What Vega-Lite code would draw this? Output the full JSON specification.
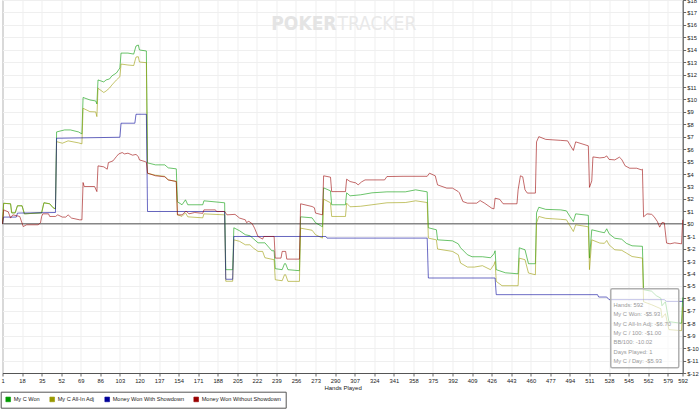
{
  "$schema": "https://vega.github.io/schema/vega-lite/v6.json",
  "width": 680.2,
  "height": 373,
  "autosize": "none",
  "padding": {"left": 2.5, "top": 0, "right": 17.3, "bottom": 36},
  "background": "white",
  "config": {
    "view": {"stroke": "#888888", "strokeWidth": 1},
    "font": "Liberation Sans"
  },
  "datasets": {
    "won": [
      {"h":1,"v":0},{"h":2,"v":1.65},{"h":8,"v":1.61},{"h":9,"v":0.88},{"h":12,"v":0.88},{"h":14,"v":1.45},{"h":18,"v":1.45},{"h":20,"v":0.8},{"h":35,"v":0.88},{"h":37,"v":1.69},{"h":42,"v":1.61},{"h":45,"v":1.29},{"h":47,"v":1.2},
      {"h":48,"v":7.39},{"h":55,"v":7.55},{"h":60,"v":7.55},{"h":67,"v":7.39},{"h":70,"v":7.23},{"h":71,"v":10.16},{"h":77,"v":9.96},{"h":82,"v":9.88},{"h":83,"v":9.64},{"h":84,"v":11.57},{"h":89,"v":11.41},{"h":91,"v":11.57},{"h":94,"v":11.65},{"h":96,"v":11.89},{"h":100,"v":12.13},{"h":103,"v":12.53},{"h":104,"v":13.73},{"h":110,"v":13.73},{"h":115,"v":13.65},{"h":117,"v":14.3},{"h":119,"v":14.38},{"h":120,"v":13.98},{"h":126,"v":13.9},
      {"h":127,"v":4.9},{"h":134,"v":4.74},{"h":142,"v":4.74},{"h":145,"v":4.5},{"h":152,"v":4.42},{"h":153,"v":1.77},{"h":157,"v":1.53},{"h":160,"v":1.93},{"h":162,"v":1.53},{"h":175,"v":1.53},{"h":176,"v":1.85},{"h":194,"v":1.69},{"h":195,"v":-3.69},{"h":201,"v":-3.69},{"h":202,"v":-0.32},{"h":207,"v":-0.56},{"h":212,"v":-0.88},{"h":216,"v":-0.96},{"h":219,"v":-1.2},{"h":223,"v":-1.53},{"h":229,"v":-1.53},{"h":235,"v":-2.17},{"h":237,"v":-2.17},{"h":238,"v":-3.61},{"h":244,"v":-3.69},{"h":246,"v":-3.21},{"h":247,"v":-3.21},{"h":249,"v":-3.69},{"h":259,"v":-3.77},
      {"h":260,"v":0.56},{"h":270,"v":0.48},{"h":273,"v":0.08},{"h":279,"v":-0.24},{"h":280,"v":2.89},{"h":286,"v":2.65},{"h":287,"v":1.53},{"h":299,"v":1.53},{"h":300,"v":2.49},{"h":303,"v":2.25},{"h":312,"v":2.33},{"h":322,"v":2.49},{"h":335,"v":2.57},{"h":351,"v":2.57},{"h":360,"v":2.73},{"h":370,"v":2.57},{"h":371,"v":-0.32},{"h":378,"v":-0.48},{"h":379,"v":-1.29},{"h":392,"v":-1.37},{"h":397,"v":-1.61},{"h":399,"v":-1.93},{"h":405,"v":-2.49},{"h":409,"v":-2.65},{"h":418,"v":-2.65},{"h":425,"v":-2.73},{"h":428,"v":-2.41},{"h":429,"v":-2.17},{"h":430,"v":-3.69},{"h":438,"v":-3.94},{"h":449,"v":-4.02},
      {"h":450,"v":-1.93},{"h":455,"v":-2.09},{"h":458,"v":-3.21},{"h":464,"v":-3.21},{"h":465,"v":0.88},{"h":467,"v":1.33},{"h":473,"v":1.16},{"h":486,"v":1.12},{"h":491,"v":1.04},{"h":494,"v":0.59},{"h":497,"v":0.18},{"h":499,"v":0.8},{"h":510,"v":0.68},{"h":511,"v":-2.76},{"h":513,"v":-0.48},{"h":520,"v":-0.64},{"h":524,"v":-0.72},{"h":526,"v":-0.4},{"h":528,"v":-0.8},{"h":533,"v":-1.16},{"h":539,"v":-1.24},{"h":543,"v":-1.57},{"h":548,"v":-1.77},{"h":557,"v":-1.81},{"h":558,"v":-5.3},{"h":565,"v":-5.42},{"h":569,"v":-5.78},{"h":573,"v":-5.98},{"h":574,"v":-6.59},{"h":577,"v":-6.27},{"h":580,"v":-7.87},{"h":590,"v":-7.99},{"h":591,"v":-7.99},{"h":592,"v":-5.93}
    ],
    "adj": [
      {"h":1,"v":0},{"h":2,"v":1.65},{"h":8,"v":1.61},{"h":9,"v":0.88},{"h":12,"v":0.88},{"h":14,"v":1.45},{"h":18,"v":1.45},{"h":20,"v":0.8},{"h":35,"v":0.88},{"h":37,"v":1.69},{"h":42,"v":1.61},{"h":45,"v":1.29},{"h":47,"v":1.2},
      {"h":48,"v":6.61},{"h":53,"v":6.48},{"h":58,"v":6.67},{"h":67,"v":6.51},{"h":70,"v":6.43},{"h":71,"v":9.29},{"h":77,"v":9.02},{"h":82,"v":9.0},{"h":83,"v":8.62},{"h":84,"v":10.9},{"h":89,"v":10.56},{"h":91,"v":10.68},{"h":94,"v":10.92},{"h":96,"v":11.16},{"h":100,"v":11.57},{"h":103,"v":11.83},{"h":104,"v":12.85},{"h":110,"v":12.77},{"h":115,"v":12.73},{"h":117,"v":13.41},{"h":119,"v":13.44},{"h":120,"v":13.01},{"h":126,"v":12.96},
      {"h":127,"v":4.07},{"h":134,"v":3.9},{"h":142,"v":3.82},{"h":145,"v":3.53},{"h":152,"v":3.41},{"h":153,"v":0.72},{"h":157,"v":0.6},{"h":160,"v":0.88},{"h":162,"v":0.56},{"h":175,"v":0.48},{"h":176,"v":0.8},{"h":194,"v":0.72},{"h":195,"v":-4.62},{"h":201,"v":-4.62},{"h":202,"v":-1.29},{"h":207,"v":-1.41},{"h":212,"v":-1.69},{"h":216,"v":-1.69},{"h":219,"v":-1.95},{"h":223,"v":-2.22},{"h":227,"v":-2.22},{"h":229,"v":-2.73},{"h":237,"v":-2.89},{"h":238,"v":-4.5},{"h":244,"v":-4.58},{"h":246,"v":-4.1},{"h":247,"v":-4.1},{"h":249,"v":-4.63},{"h":259,"v":-4.63},
      {"h":260,"v":-0.35},{"h":270,"v":-0.52},{"h":273,"v":-0.88},{"h":279,"v":-1.15},{"h":280,"v":1.98},{"h":286,"v":1.69},{"h":287,"v":0.59},{"h":299,"v":0.59},{"h":300,"v":1.66},{"h":303,"v":1.37},{"h":312,"v":1.41},{"h":322,"v":1.53},{"h":335,"v":1.69},{"h":351,"v":1.71},{"h":360,"v":1.85},{"h":370,"v":1.71},{"h":371,"v":-1.15},{"h":378,"v":-1.29},{"h":379,"v":-2.03},{"h":392,"v":-2.22},{"h":397,"v":-2.49},{"h":399,"v":-3.16},{"h":405,"v":-3.48},{"h":411,"v":-3.48},{"h":418,"v":-3.37},{"h":425,"v":-3.69},{"h":428,"v":-3.29},{"h":429,"v":-3.03},{"h":430,"v":-4.63},{"h":435,"v":-4.98},{"h":449,"v":-4.98},
      {"h":450,"v":-2.76},{"h":455,"v":-2.89},{"h":458,"v":-3.96},{"h":464,"v":-4.1},{"h":465,"v":0.06},{"h":467,"v":0.59},{"h":473,"v":0.44},{"h":486,"v":0.36},{"h":491,"v":0.32},{"h":494,"v":-0.16},{"h":497,"v":-0.62},{"h":499,"v":-0.08},{"h":510,"v":-0.24},{"h":511,"v":-3.69},{"h":513,"v":-1.29},{"h":520,"v":-1.55},{"h":524,"v":-1.57},{"h":526,"v":-1.34},{"h":528,"v":-1.69},{"h":533,"v":-2.09},{"h":539,"v":-2.13},{"h":543,"v":-2.35},{"h":548,"v":-2.63},{"h":557,"v":-2.76},{"h":558,"v":-6.27},{"h":565,"v":-6.51},{"h":569,"v":-6.67},{"h":573,"v":-6.83},{"h":574,"v":-7.55},{"h":577,"v":-7.23},{"h":580,"v":-8.51},{"h":590,"v":-8.59},{"h":591,"v":-8.59},{"h":592,"v":-6.7}
    ],
    "sd": [
      {"h":1,"v":0},{"h":2,"v":0.54},{"h":13,"v":0.54},{"h":14,"v":0.86},{"h":47,"v":0.91},{"h":48,"v":6.88},{"h":103,"v":6.96},{"h":104,"v":8.09},{"h":116,"v":8.09},{"h":117,"v":8.81},{"h":126,"v":8.81},{"h":127,"v":0.99},{"h":194,"v":0.99},{"h":195,"v":-4.46},{"h":201,"v":-4.46},{"h":202,"v":-1.02},{"h":282,"v":-1.02},{"h":283,"v":-1.15},{"h":370,"v":-1.15},{"h":371,"v":-4.36},{"h":429,"v":-4.36},{"h":430,"v":-5.7},{"h":518,"v":-5.7},{"h":519,"v":-5.89},{"h":526,"v":-5.89},{"h":528,"v":-6.1},{"h":576,"v":-6.1},{"h":578,"v":-6.24},{"h":592,"v":-6.24}
    ],
    "nsd": [
      {"h":1,"v":0},{"h":2,"v":1.12},{"h":6,"v":0.96},{"h":8,"v":0.46},{"h":10,"v":0.72},{"h":16,"v":0.59},{"h":19,"v":-0.22},{"h":22,"v":-0.08},{"h":32,"v":-0.08},{"h":34,"v":0.08},{"h":35,"v":0.59},{"h":36,"v":0.8},{"h":41,"v":0.8},{"h":42,"v":0.59},{"h":47,"v":0.59},{"h":49,"v":0.72},{"h":53,"v":0.54},{"h":56,"v":0.54},{"h":58,"v":0.72},{"h":61,"v":0.46},{"h":68,"v":0.32},{"h":70,"v":0.32},{"h":71,"v":3.32},{"h":72,"v":3.0},{"h":81,"v":3.0},{"h":83,"v":2.59},{"h":84,"v":4.66},{"h":89,"v":4.58},{"h":92,"v":4.39},{"h":93,"v":4.92},{"h":97,"v":5.06},{"h":100,"v":5.41},{"h":102,"v":5.62},{"h":105,"v":5.73},{"h":107,"v":5.62},{"h":110,"v":5.68},{"h":114,"v":5.52},{"h":117,"v":5.58},{"h":119,"v":5.41},{"h":120,"v":5.14},{"h":125,"v":5.0},{"h":126,"v":4.95},
      {"h":127,"v":4.07},{"h":134,"v":3.86},{"h":142,"v":3.78},{"h":145,"v":3.53},{"h":152,"v":3.4},{"h":153,"v":0.72},{"h":157,"v":0.72},{"h":160,"v":0.99},{"h":161,"v":0.99},{"h":163,"v":0.8},{"h":168,"v":0.91},{"h":175,"v":0.84},{"h":176,"v":1.12},{"h":186,"v":1.12},{"h":187,"v":0.99},{"h":194,"v":0.99},{"h":196,"v":0.72},{"h":203,"v":0.76},{"h":207,"v":0.46},{"h":212,"v":0.32},{"h":213,"v":0.1},{"h":215,"v":0.2},{"h":218,"v":0.0},{"h":220,"v":-0.35},{"h":223,"v":-1.02},{"h":227,"v":-1.23},{"h":228,"v":-1.02},{"h":237,"v":-1.02},{"h":238,"v":-2.76},{"h":243,"v":-2.76},{"h":244,"v":-2.22},{"h":247,"v":-2.22},{"h":248,"v":-2.84},{"h":259,"v":-2.84},
      {"h":260,"v":1.61},{"h":270,"v":1.39},{"h":272,"v":1.29},{"h":273,"v":0.86},{"h":279,"v":0.72},{"h":280,"v":3.86},{"h":286,"v":3.75},{"h":287,"v":2.59},{"h":299,"v":2.59},{"h":300,"v":3.59},{"h":303,"v":3.4},{"h":308,"v":3.29},{"h":310,"v":3.13},{"h":313,"v":3.37},{"h":316,"v":3.53},{"h":333,"v":3.53},{"h":335,"v":3.8},{"h":349,"v":3.82},{"h":370,"v":3.82},{"h":372,"v":4.07},{"h":377,"v":3.86},{"h":379,"v":3.13},{"h":387,"v":2.87},{"h":392,"v":2.87},{"h":397,"v":2.59},{"h":398,"v":2.49},{"h":401,"v":1.79},{"h":405,"v":1.66},{"h":413,"v":1.66},{"h":416,"v":1.87},{"h":420,"v":1.65},{"h":426,"v":1.26},{"h":428,"v":1.2},{"h":429,"v":2.06},{"h":433,"v":1.97},{"h":436,"v":1.61},{"h":448,"v":1.61},
      {"h":449,"v":2.73},{"h":451,"v":3.86},{"h":453,"v":3.78},{"h":455,"v":2.73},{"h":457,"v":2.47},{"h":464,"v":2.47},{"h":465,"v":6.59},{"h":467,"v":7.01},{"h":473,"v":6.79},{"h":486,"v":6.71},{"h":492,"v":6.67},{"h":494,"v":6.35},{"h":497,"v":5.9},{"h":499,"v":6.59},{"h":510,"v":6.27},{"h":511,"v":2.93},{"h":513,"v":3.45},{"h":514,"v":5.38},{"h":520,"v":5.3},{"h":524,"v":5.34},{"h":526,"v":5.46},{"h":528,"v":5.18},{"h":533,"v":5.14},{"h":537,"v":5.36},{"h":539,"v":5.18},{"h":542,"v":4.66},{"h":546,"v":4.47},{"h":552,"v":4.47},{"h":556,"v":4.34},{"h":557,"v":4.39},{"h":558,"v":0.56},{"h":561,"v":0.8},{"h":565,"v":0.76},{"h":567,"v":0.59},{"h":570,"v":0.18},{"h":572,"v":-0.27},{"h":574,"v":0.1},{"h":576,"v":0.08},{"h":578,"v":-1.55},{"h":581,"v":-1.61},{"h":585,"v":-1.53},{"h":591,"v":-1.61},{"h":592,"v":0.32}
    ]
  },
  "layer": [
    {
      "data": {"values": [{}]},
      "mark": {"type": "text", "text": "POKER", "align": "right", "baseline": "alphabetic", "font": "Liberation Sans Narrow, DejaVu Sans Condensed, Liberation Sans", "fontSize": 19, "fontWeight": "bold", "color": "#e4e4e4"},
      "encoding": {
        "x": {"datum": 291.2, "type": "quantitative", "scale": {"domain": [1, 592], "nice": false, "zero": false}},
        "y": {"datum": 15.58, "type": "quantitative", "scale": {"domain": [-12, 18], "nice": false, "zero": false}}
      }
    },
    {
      "data": {"values": [{}]},
      "mark": {"type": "text", "text": "TRACKER", "align": "left", "baseline": "alphabetic", "font": "Liberation Sans Narrow, DejaVu Sans Condensed, Liberation Sans", "fontSize": 19, "fontWeight": "normal", "color": "#e9e9e9"},
      "encoding": {
        "x": {"datum": 292.1, "type": "quantitative"},
        "y": {"datum": 15.58, "type": "quantitative"}
      }
    },
    {
      "data": {"values": [{}]},
      "mark": {"type": "rule", "color": "#555555", "strokeWidth": 1},
      "encoding": {"y": {"datum": 0, "type": "quantitative"}}
    },
    {
      "data": {"name": "won"},
      "mark": {"type": "line", "strokeWidth": 1, "opacity": 0.58},
      "encoding": {
        "x": {
          "field": "h", "type": "quantitative",
          "axis": {
            "orient": "bottom",
            "values": [1,18,35,52,69,86,103,120,137,154,171,188,205,222,239,256,273,290,307,324,341,358,375,392,409,426,443,460,477,494,511,528,545,562,579,592],
            "tickCount": 200,
            "title": "Hands Played", "titleFontSize": 6, "titleFontWeight": "normal", "titleColor": "#222222", "titlePadding": 2,
            "labelFontSize": 5.8, "labelColor": "#222222", "labelPadding": 1, "labelOverlap": false, "labelFlush": false,
            "tickSize": 3, "tickColor": "#666666", "domainColor": "#555555",
            "grid": true, "gridColor": "#efefef"
          }
        },
        "y": {
          "field": "v", "type": "quantitative",
          "axis": {
            "orient": "right",
            "values": [-12,-11,-10,-9,-8,-7,-6,-5,-4,-3,-2,-1,0,1,2,3,4,5,6,7,8,9,10,11,12,13,14,15,16,17,18],
            "tickCount": 200,
            "labelExpr": "'$' + datum.value",
            "title": null,
            "labelFontSize": 5.8, "labelColor": "#222222", "labelPadding": 1, "labelOverlap": false,
            "tickSize": 3, "tickColor": "#666666", "domainColor": "#555555",
            "grid": true, "gridColor": "#efefef"
          }
        },
        "color": {
          "datum": "My C Won", "type": "nominal",
          "scale": {"domain": ["My C Won", "My C All-In Adj", "Money Won With Showdown", "Money Won Without Showdown"], "range": ["#009900", "#999900", "#000099", "#990000"]},
          "legend": {
            "orient": "none", "legendX": -1.8, "legendY": 391.7, "direction": "horizontal", "columns": 4,
            "title": null, "symbolType": "square", "symbolSize": 22, "symbolOpacity": 1, "symbolStrokeWidth": 0.6,
            "labelFontSize": 5.6, "labelColor": "#222222", "labelOffset": 2.5, "columnPadding": 8,
            "padding": 4.5, "strokeColor": "#555555", "fillColor": "#ffffff",
            "encode": {"symbols": {"update": {"fill": {"scale": "color", "field": "value"}, "fillOpacity": {"value": 1}, "stroke": {"value": "#333333"}, "opacity": {"value": 1}}}}
          }
        }
      }
    },
    {
      "data": {"name": "adj"},
      "mark": {"type": "line", "strokeWidth": 1, "opacity": 0.58},
      "encoding": {
        "x": {"field": "h", "type": "quantitative"},
        "y": {"field": "v", "type": "quantitative"},
        "color": {"datum": "My C All-In Adj", "type": "nominal"}
      }
    },
    {
      "data": {"name": "sd"},
      "mark": {"type": "line", "strokeWidth": 1, "opacity": 0.58},
      "encoding": {
        "x": {"field": "h", "type": "quantitative"},
        "y": {"field": "v", "type": "quantitative"},
        "color": {"datum": "Money Won With Showdown", "type": "nominal"}
      }
    },
    {
      "data": {"name": "nsd"},
      "mark": {"type": "line", "strokeWidth": 1, "opacity": 0.58},
      "encoding": {
        "x": {"field": "h", "type": "quantitative"},
        "y": {"field": "v", "type": "quantitative"},
        "color": {"datum": "Money Won Without Showdown", "type": "nominal"}
      }
    },
    {
      "data": {"values": [{}]},
      "mark": {"type": "rect", "fill": "#ffffff", "fillOpacity": 0.6, "stroke": "#b0b0b0", "strokeWidth": 1.5, "cornerRadius": 1.5},
      "encoding": {
        "x": {"datum": 529.5, "type": "quantitative"},
        "x2": {"datum": 588.6},
        "y": {"datum": -5.22, "type": "quantitative"},
        "y2": {"datum": -11.57}
      }
    },
    {
      "data": {"values": [{}]},
      "mark": {"type": "text", "text": ["Hands: 592", "My C Won: -$5.93", "My C All-In Adj: -$6.70", "My C / 100: -$1.00", "BB/100: -10.02", "Days Played: 1", "My C / Day: -$5.93"], "align": "left", "baseline": "top", "lineHeight": 9.4, "fontSize": 5.8, "color": "#999999"},
      "encoding": {
        "x": {"datum": 531.9, "type": "quantitative"},
        "y": {"datum": -6.27, "type": "quantitative"}
      }
    }
  ]
}
